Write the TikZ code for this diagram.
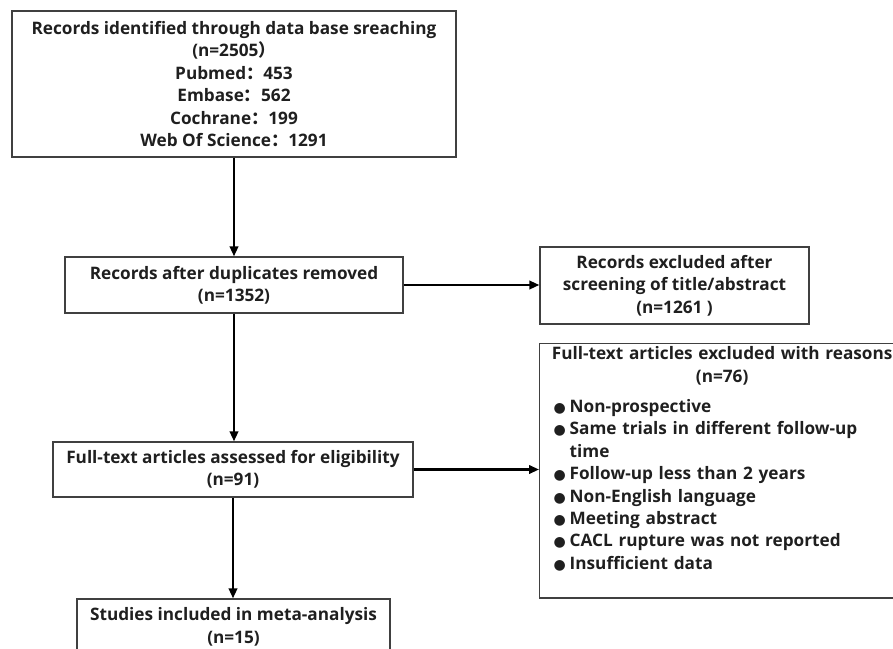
\documentclass[tikz,border=0pt]{standalone}
\usepackage{fontspec}
\setmainfont{Open Sans}
\newfontfamily\cjk{Noto Sans CJK SC}
\newfontfamily\sym{DejaVu Sans}
\usetikzlibrary{arrows.meta}
\newcommand\fw[1]{{\cjk #1}}
\newcommand\bitem[1]{\par\hangindent=20pt\hangafter=1\noindent\hspace*{4pt}\makebox[16pt][l]{\sym\fontsize{14}{14}\selectfont ●}#1}
\tikzset{
  box/.style={draw=black!75, line width=1.3pt, inner sep=0pt, align=center, text=black!88},
  arr/.style={line width=2.2pt, -{Triangle[length=10pt,width=8.5pt]}}
}
\begin{document}
\begin{tikzpicture}[x=1pt,y=-1pt,font=\fontsize{17.2}{22.4}\selectfont\bfseries]
\useasboundingbox (0,0) rectangle (893,648);
\node[box, minimum width=444pt, minimum height=146pt] (rec) at (234,84)
  {Records identified through data base sreaching\\(n=2505\fw{）}\\Pubmed\fw{：}453\\Embase\fw{：}562\\Cochrane\fw{：}199\\Web Of Science\fw{：}1291};
\node[box, minimum width=338pt, minimum height=56pt] (dup) at (234,285)
  {Records after duplicates removed\\(n=1352)};
\node[box, minimum width=269pt, minimum height=77pt] (exc) at (674.5,285.5)
  {Records excluded after\\screening of title/abstract\\(n=1261 )};
\node[box, minimum width=360pt, minimum height=55pt] (full) at (233,469.5)
  {Full-text articles assessed for eligibility\\(n=91)};
\node[box, minimum width=313pt, minimum height=56pt] (inc) at (233.5,627)
  {Studies included in meta-analysis\\(n=15)};
\node[box, anchor=north west, text width=345pt, inner xsep=10pt, inner ysep=3pt, align=left] (rsn) at (539,343)
  {{\centering\mbox{Full-text articles excluded with reasons}\\(n=76)\par}\vspace{8pt}%
   \bitem{Non-prospective}%
   \bitem{Same trials in different follow-up\newline time}%
   \bitem{Follow-up less than 2 years}%
   \bitem{Non-English language}%
   \bitem{Meeting abstract}%
   \bitem{CACL rupture was not reported}%
   \bitem{Insufficient data}\par\vspace{24pt}};
\draw[arr] (rec.south) -- (dup.north);
\draw[arr] (dup.south) -- (dup.south |- full.north);
\draw[arr] (full.south) -- (full.south |- inc.north);
\draw[arr] (dup.east) -- (dup.east -| exc.west);
\draw[arr] (full.east) -- (full.east -| rsn.west);
\end{tikzpicture}
\end{document}
